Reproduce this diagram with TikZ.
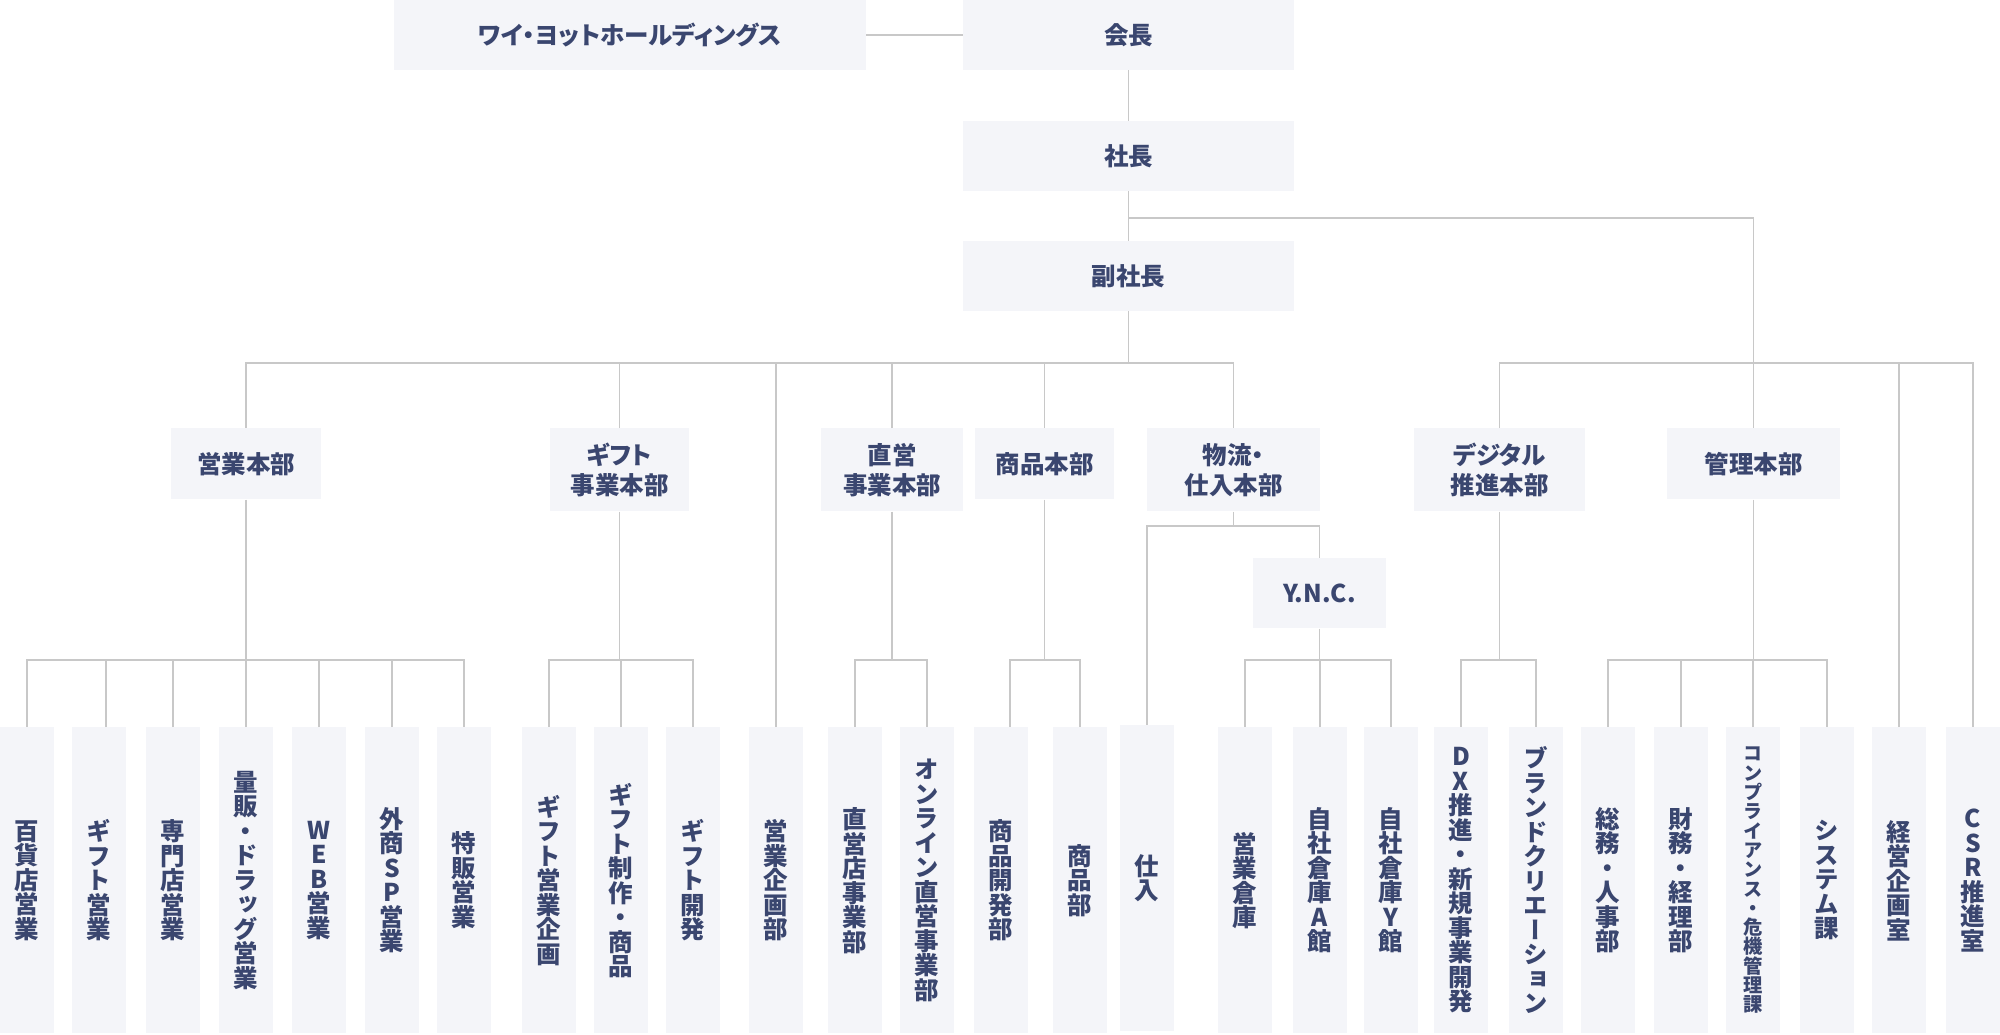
\documentclass[tikz,border=0pt]{standalone}
\usepackage{fontspec}
\newfontfamily\jp[RawFeature=+palt]{Noto Sans CJK JP}
\newfontfamily\vjp[RawFeature=+vert]{Noto Sans CJK JP}
\definecolor{ink}{HTML}{3A466F}
\definecolor{cell}{HTML}{F4F5F9}
\definecolor{linegray}{HTML}{C8C8C8}
% stack the characters of a label one under the other
\makeatletter
\newcommand\tate[1]{\def\tate@out{}\tate@loop#1\@nil\tate@out}
\def\tate@loop#1{\ifx#1\@nil\else\tate@add{#1}\expandafter\tate@loop\fi}
\def\tate@add#1{\ifx\tate@out\@empty\def\tate@out{#1}\else
  \expandafter\def\expandafter\tate@out\expandafter{\tate@out\\#1}\fi}
\makeatother
\begin{document}
\begin{tikzpicture}[x=0.5pt,y=-0.5pt,
 cellbox/.style={fill=cell,text=ink,inner sep=0pt,align=center,font=\jp\bfseries\fontsize{12.25}{15}\selectfont},
 topbox/.style={cellbox,minimum width=165.5pt,minimum height=35pt},
 headbox/.style={cellbox,anchor=north,minimum height=35.5pt},
 headtwo/.style={cellbox,anchor=north,minimum height=41.5pt},
 leaf/.style={cellbox,anchor=north,minimum width=27pt,minimum height=153pt,font=\vjp\bfseries\fontsize{12.25}{12.25}\selectfont},
 link/.style={draw=linegray,line width=0.75pt}]
\useasboundingbox (0,0) rectangle (2000,1034);

\node[topbox,minimum width=236pt] (hd) at (630,35) {ワイ・ヨットホールディングス};
\node[topbox] (chair) at (1128.5,35) {会長};
\node[topbox] (pres) at (1128.5,156) {社長};
\node[topbox] (vp) at (1128.5,276) {副社長};

\node[headbox,minimum width=75pt] (eig) at (246,428) {営業本部};
\node[headtwo,minimum width=69.5pt] (gift) at (619.5,428) {ギフト\\事業本部};
\node[headtwo,minimum width=71pt] (chok) at (892,428) {直営\\事業本部};
\node[headbox,minimum width=69.5pt] (shohin) at (1044.5,428) {商品本部};
\node[headtwo,minimum width=86.5pt] (butsu) at (1233.5,428) {物流・\\仕入本部};
\node[headtwo,minimum width=85.5pt] (dig) at (1499.5,428) {デジタル\\推進本部};
\node[headbox,minimum width=86.5pt] (kanri) at (1753.5,428) {管理本部};
\node[headbox,minimum width=66.5pt,minimum height=35pt] (ync) at (1319.5,558) {Y.N.C.};

\node[leaf] (hyak) at (27,727) {\tate{百貨店営業}};
\node[leaf] (giftE) at (99,727) {\tate{ギフト営業}};
\node[leaf] (senmon) at (173,727) {\tate{専門店営業}};
\node[leaf] (ryohan) at (246,727) {\tate{量販・ドラッグ営業}};
\node[leaf] (web) at (319,727) {\tate{WEB営業}};
\node[leaf] (gaisho) at (392,727) {\tate{外商SP営業}};
\node[leaf] (tokuhan) at (464,727) {\tate{特販営業}};
\node[leaf] (giftK) at (549,727) {\tate{ギフト営業企画}};
\node[leaf] (giftS) at (621,727) {\tate{ギフト制作・商品}};
\node[leaf] (giftD) at (693,727) {\tate{ギフト開発}};
\node[leaf] (kik) at (776,727) {\tate{営業企画部}};
\node[leaf] (chokS) at (855,727) {\tate{直営店事業部}};
\node[leaf] (online) at (927,727) {\tate{オンライン直営事業部}};
\node[leaf] (shokai) at (1001,727) {\tate{商品開発部}};
\node[leaf] (shohinB) at (1080,727) {\tate{商品部}};
\node[leaf] (shiire) at (1147,725) {\tate{仕入}};
\node[leaf] (soko) at (1245,727) {\tate{営業倉庫}};
\node[leaf] (sokoA) at (1320,727) {\tate{自社倉庫A館}};
\node[leaf] (sokoY) at (1391,727) {\tate{自社倉庫Y館}};
\node[leaf] (dx) at (1461,727) {\tate{DX推進・新規事業開発}};
\node[leaf] (brand) at (1536,727) {\tate{ブランドクリエーション}};
\node[leaf] (somu) at (1608,727) {\tate{総務・人事部}};
\node[leaf] (zaimu) at (1681,727) {\tate{財務・経理部}};
\node[leaf,font=\vjp\bfseries\fontsize{9.65}{9.65}\selectfont] (comp) at (1753,727) {\tate{コンプライアンス・危機管理課}};
\node[leaf] (system) at (1827,727) {\tate{システム課}};
\node[leaf] (keiei) at (1899,727) {\tate{経営企画室}};
\node[leaf] (csr) at (1973,727) {\tate{CSR推進室}};

\coordinate (jn) at (0,218);
\coordinate (upbus) at (0,363);
\coordinate (subbus) at (0,526);
\coordinate (lowbus) at (0,660);

\draw[link] (hd) -- (chair);
\draw[link] (chair) -- (pres);
\draw[link] (pres) -- (vp);

%\draw[link] (vp.south) |- (kik.north |- upbus);
\draw[link] (vp.south) |- (eig.north |- upbus) -- (eig.north);
\draw[link] (vp.south) |- (butsu.north |- upbus) -- (butsu.north);
\draw[link] (gift.north) -- (gift.north |- upbus);
\draw[link] (kik.north) -- (kik.north |- upbus);
\draw[link] (chok.north) -- (chok.north |- upbus);
\draw[link] (shohin.north) -- (shohin.north |- upbus);

\draw[link] (pres.south |- jn) -| (kanri.north);
\draw[link] (dig.north) |- (csr.north |- upbus) -- (csr.north);
\draw[link] (keiei.north) -- (keiei.north |- upbus);

\draw[link] (eig.south) |- (hyak.north |- lowbus) -- (hyak.north);
\draw[link] (eig.south) |- (tokuhan.north |- lowbus) -- (tokuhan.north);
\draw[link] ([xshift=3.5pt]giftE.north) -- ([xshift=3.5pt]giftE.north |- lowbus);
\draw[link] (senmon.north) -- (senmon.north |- lowbus);
\draw[link] (ryohan.north) -- (ryohan.north |- lowbus);
\draw[link] (web.north) -- (web.north |- lowbus);
\draw[link] (gaisho.north) -- (gaisho.north |- lowbus);

\draw[link] (gift.south) |- (giftK.north |- lowbus) -- (giftK.north);
\draw[link] (gift.south) |- (giftD.north |- lowbus) -- (giftD.north);
\draw[link] (giftS.north) -- (giftS.north |- lowbus);

\draw[link] (chok.south) |- (chokS.north |- lowbus) -- (chokS.north);
\draw[link] (chok.south) |- (online.north |- lowbus) -- (online.north);

\draw[link] (shohin.south) |- ([xshift=4.5pt]shokai.north |- lowbus) -- ([xshift=4.5pt]shokai.north);
\draw[link] (shohin.south) |- (shohinB.north |- lowbus) -- (shohinB.north);

\draw[link] (butsu.south) |- (shiire.north |- subbus) -- (shiire.north);
\draw[link] (butsu.south) |- (ync.north |- subbus) -- (ync.north);
\draw[link] (ync.south) |- (soko.north |- lowbus) -- (soko.north);
\draw[link] (ync.south) |- (sokoY.north |- lowbus) -- (sokoY.north);
\draw[link] (sokoA.north) -- (sokoA.north |- lowbus);

\draw[link] (dig.south) |- (dx.north |- lowbus) -- (dx.north);
\draw[link] (dig.south) |- (brand.north |- lowbus) -- (brand.north);

\draw[link] (kanri.south) |- (somu.north |- lowbus) -- (somu.north);
\draw[link] (kanri.south) |- (system.north |- lowbus) -- (system.north);
\draw[link] (zaimu.north) -- (zaimu.north |- lowbus);
\draw[link] (comp.north) -- (comp.north |- lowbus);
\end{tikzpicture}
\end{document}
